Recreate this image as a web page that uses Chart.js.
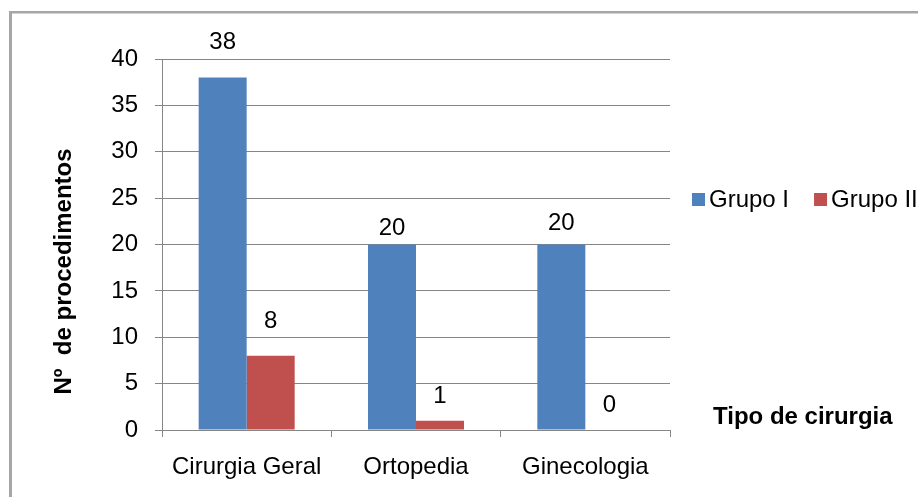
<!DOCTYPE html>
<html>
<head>
<meta charset="utf-8">
<script src="https://cdn.jsdelivr.net/npm/chart.js@4/dist/chart.umd.min.js"></script>
<style>
  html, body { margin: 0; padding: 0; background: #fff; }
  canvas { display: block; }
</style>
</head>
<body>
<canvas id="chart" width="918" height="497"></canvas>
<script>
// Procedures per surgery type, by group
const categories = ['Cirurgia Geral', 'Ortopedia', 'Ginecologia'];
const grupoI = [38, 20, 20];
const grupoII = [8, 1, 0];
const seriesNames = ['Grupo I', 'Grupo II'];
const yTicks = [0, 5, 10, 15, 20, 25, 30, 35, 40];
const yTitle = 'Nº  de procedimentos';
const xTitle = 'Tipo de cirurgia';

const FONT = "'Liberation Sans', Arial, sans-serif";
const BLUE = '#4F81BD';
const RED = '#C0504D';
const GRID = '#868686';

// Outer frame of the figure (top and left edges)
const framePlugin = {
  id: 'frame',
  beforeDraw(chart) {
    const ctx = chart.ctx;
    ctx.save();
    ctx.fillStyle = '#fff';
    ctx.fillRect(0, 0, chart.width, chart.height);
    ctx.fillStyle = '#a6a6a6';
    ctx.fillRect(9, 11, chart.width, 2.5);
    ctx.fillRect(9, 11, 3, chart.height);
    ctx.restore();
  }
};

// Value labels above each bar
const valueLabelPlugin = {
  id: 'valueLabels',
  afterDatasetsDraw(chart, args, opts) {
    const ctx = chart.ctx;
    ctx.save();
    ctx.font = `24px ${FONT}`;
    ctx.fillStyle = '#000';
    ctx.textAlign = 'center';
    ctx.textBaseline = 'middle';
    chart.data.datasets.forEach((ds, di) => {
      const meta = chart.getDatasetMeta(di);
      meta.data.forEach((bar, i) => {
        const lift = opts.lift[di][i];
        ctx.fillText(String(ds.data[i]), bar.x, bar.y - lift);
      });
    });
    ctx.restore();
  }
};

// Axis titles and the horizontal legend at the right
const sideTextPlugin = {
  id: 'sideText',
  afterDraw(chart) {
    const ctx = chart.ctx;
    ctx.save();
    ctx.fillStyle = '#000';
    ctx.textBaseline = 'middle';

    // y-axis title, rotated
    ctx.font = `bold 24px ${FONT}`;
    ctx.translate(64, 271.5);
    ctx.rotate(-Math.PI / 2);
    ctx.textAlign = 'center';
    ctx.fillText(yTitle, 0, 0);
    ctx.setTransform(1, 0, 0, 1, 0, 0);

    // x-axis title
    ctx.textAlign = 'left';
    ctx.fillText(xTitle, 713, 417);

    // legend
    ctx.font = `24px ${FONT}`;
    let x = 692;
    const y = 200;
    chart.data.datasets.forEach((ds) => {
      ctx.fillStyle = ds.backgroundColor;
      ctx.fillRect(x, y - 7, 13, 13);
      x += 17;
      ctx.fillStyle = '#000';
      ctx.fillText(ds.label, x, y);
      x += ctx.measureText(ds.label).width + 25;
    });
    ctx.restore();
  }
};

new Chart(document.getElementById('chart'), {
  type: 'bar',
  data: {
    labels: categories,
    datasets: [
      { label: seriesNames[0], data: grupoI, backgroundColor: BLUE,
        categoryPercentage: 0.567, barPercentage: 1.0 },
      { label: seriesNames[1], data: grupoII, backgroundColor: RED,
        categoryPercentage: 0.567, barPercentage: 1.0 }
    ]
  },
  options: {
    responsive: false,
    devicePixelRatio: 1,
    animation: false,
    layout: { padding: { left: 0, top: 59, right: 248, bottom: 0 } },
    plugins: {
      legend: { display: false },
      tooltip: { enabled: false },
      valueLabels: { lift: [[35.5, 16, 21.5], [34, 24, 25]] }
    },
    scales: {
      x: {
        grid: { display: true, drawOnChartArea: false, drawTicks: true,
                tickLength: 7, color: GRID, offset: true },
        border: { display: true, color: GRID, width: 1 },
        ticks: { color: '#000', font: { family: FONT, size: 24 }, padding: 16,
                 maxRotation: 0, autoSkip: false },
        afterFit(scale) { scale.height = 67; }
      },
      y: {
        min: 0,
        max: 40,
        afterBuildTicks(scale) { scale.ticks = yTicks.map(v => ({ value: v })); },
        grid: { color: GRID, lineWidth: 1, tickLength: 7, drawTicks: true },
        border: { display: true, color: GRID, width: 1 },
        ticks: { color: '#000', font: { family: FONT, size: 24 }, padding: 17 },
        afterFit(scale) { scale.width = 162; }
      }
    }
  },
  plugins: [framePlugin, valueLabelPlugin, sideTextPlugin]
});
</script>
</body>
</html>
